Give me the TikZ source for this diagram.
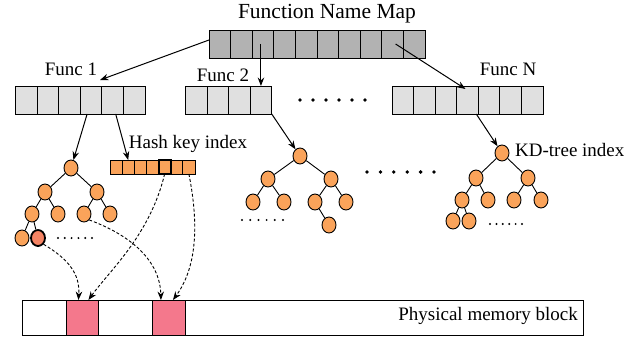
\documentclass[tikz,border=0pt]{standalone}
\usepackage{fontspec}
\setmainfont{Liberation Serif}
\usetikzlibrary{shapes.geometric,arrows.meta}
\definecolor{mapgray}{RGB}{178,178,178}
\definecolor{funcgray}{RGB}{224,224,224}
\definecolor{nodeorange}{RGB}{250,163,90}
\definecolor{nodesalmon}{RGB}{245,132,100}
\definecolor{mempink}{RGB}{244,120,140}
\tikzset{
  mapcell/.style={draw, line width=0.9pt, fill=mapgray, minimum width=21.6pt, minimum height=28pt, inner sep=0pt, outer sep=0pt},
  funccell/.style={draw, line width=0.9pt, fill=funcgray, minimum width=21.55pt, minimum height=28pt, inner sep=0pt, outer sep=0pt},
  hashcell/.style={draw, line width=0.8pt, fill=nodeorange, minimum width=12.14pt, minimum height=14pt, inner sep=0pt, outer sep=0pt},
  tnode/.style={ellipse, draw, line width=0.9pt, fill=nodeorange, minimum width=14pt, minimum height=16pt, inner sep=0pt},
  hinode/.style={tnode, fill=nodesalmon, line width=1.8pt},
  edge/.style={line width=0.9pt},
  arr/.style={line width=1pt, -{Stealth[length=8.5pt,width=6.5pt]}},
  darr/.style={line width=0.9pt, dashed, dash pattern=on 3pt off 2pt, -{Stealth[length=8.5pt,width=6.5pt]}},
  lbl/.style={font=\fontsize{19}{22}\selectfont, inner sep=0pt},
  biglbl/.style={font=\fontsize{21.5}{24}\selectfont, inner sep=0pt},
  bigdot/.style={fill=black},
}
\begin{document}
\begin{tikzpicture}[x=1pt,y=-1pt]
\useasboundingbox (0,0) rectangle (635,337);

% Function Name Map
\foreach \i in {1,...,10} {
  \node[mapcell] (fm\i) at ({209+10.8+21.6*(\i-1)},44) {};
}
\node[biglbl] (fmlabel) at (327,14) {Function Name Map};

% Func 1
\foreach \i in {1,...,6} {
  \node[funccell] (fa\i) at ({15.7+10.78+21.55*(\i-1)},100) {};
}
\node[lbl] (falabel) at (71,69) {Func 1};

% Func 2
\foreach \i in {1,...,4} {
  \node[funccell] (fb\i) at ({185.7+10.75+21.5*(\i-1)},100) {};
}
\node[lbl] (fblabel) at (223,75) {Func 2};

% Func N
\foreach \i in {1,...,7} {
  \node[funccell] (fn\i) at ({392+10.78+21.57*(\i-1)},100) {};
}
\node[lbl] (fnlabel) at (508,69) {Func N};

% big dots between arrays and trees
\foreach \k in {0,...,5} {
  \fill[bigdot] ({300+13*\k},100) circle (1.9pt);
  \fill[bigdot] ({367+13.4*\k},172) circle (1.9pt);
}

% Hash array
\foreach \i in {1,...,7} {
  \node[hashcell] (h\i) at ({110+6.07+12.14*(\i-1)},167) {};
}
\node[hashcell, line width=2pt] (h5b) at (h5) {};
\node[lbl] (hlabel) at (188,144) {Hash key index};

% Tree 1
\node[tnode] (a) at (71,168) {};
\node[tnode] (aL) at (45,192) {};
\node[tnode] (aR) at (97,192) {};
\node[tnode] (aLL) at (32,214) {};
\node[tnode] (aLR) at (58,214) {};
\node[tnode] (aRL) at (84,214) {};
\node[tnode] (aRR) at (110,214) {};
\node[tnode] (aLLL) at (22,238) {};
\node[hinode] (aLLR) at (38,238) {};
\draw[edge] (a) -- (aL) (a) -- (aR) (aL) -- (aLL) (aL) -- (aLR) (aR) -- (aRL) (aR) -- (aRR) (aLL) -- (aLLL) (aLL) -- (aLLR);
\foreach \k in {0,...,5} { \fill ({58+6.8*\k},238) circle (1.1pt); }

% Tree 2
\node[tnode] (b) at (300,156) {};
\node[tnode] (bL) at (268,179) {};
\node[tnode] (bR) at (331,179) {};
\node[tnode] (bLL) at (253,202) {};
\node[tnode] (bLR) at (284,202) {};
\node[tnode] (bRL) at (315,202) {};
\node[tnode] (bRR) at (346,202) {};
\node[tnode] (bRLR) at (329,225) {};
\draw[edge] (b) -- (bL) (b) -- (bR) (bL) -- (bLL) (bL) -- (bLR) (bR) -- (bRL) (bR) -- (bRR) (bRL) -- (bRLR);
\foreach \k in {0,...,5} { \fill ({242+8.2*\k},220) circle (1.1pt); }

% Tree N
\node[tnode] (c) at (502,153) {};
\node[tnode] (cL) at (476,178) {};
\node[tnode] (cR) at (528,178) {};
\node[tnode] (cLL) at (462,200) {};
\node[tnode] (cLR) at (488,200) {};
\node[tnode] (cRL) at (514,200) {};
\node[tnode] (cRR) at (541,200) {};
\node[tnode] (cLLL) at (453,221) {};
\node[tnode] (cLLR) at (469,221) {};
\draw[edge] (c) -- (cL) (c) -- (cR) (cL) -- (cLL) (cL) -- (cLR) (cR) -- (cRL) (cR) -- (cRR) (cLL) -- (cLLL) (cLL) -- (cLLR);
\foreach \k in {0,...,5} { \fill ({490+6.4*\k},224) circle (1.1pt); }
\node[lbl, anchor=west] (clabel) at (515,150) {KD-tree index};

% Memory block
\node[draw, line width=0.9pt, minimum width=561pt, minimum height=35pt, inner sep=0pt, anchor=north west] (mem) at (22,300) {};
\node[draw, line width=0.9pt, fill=mempink, minimum width=32pt, minimum height=35pt, inner sep=0pt, anchor=north west] (p1) at (66,300) {};
\node[draw, line width=0.9pt, fill=mempink, minimum width=33pt, minimum height=35pt, inner sep=0pt, anchor=north west] (p2) at (152,300) {};
\node[lbl, anchor=east] (memlabel) at (578,316) {Physical memory block};

% Arrows from the map
\coordinate (fa_end) at (100,80);
\draw[arr] ([yshift=4pt]fm1.west) -- (fa_end);
\draw[arr] (fm3.center -| fb4.north) -- (fb4.north);
\draw[arr] ([xshift=3pt]fm9.center) -- ([xshift=-2pt,yshift=-3pt]fn4.north);

% Arrows from function arrays
\draw[arr] ([xshift=-4pt]fa4.south) -- (a);
\draw[arr] ([xshift=3pt]fa5.south) -- (h2.north);
\draw[arr] (fb4.south east) -- (b);
\draw[arr] ([xshift=-2pt]fn4.south east) -- (c);

% Dashed arrows to memory
\draw[darr] (aLLR.south east) .. controls (70,260) and (80,275) .. ([xshift=-4pt]p1.north);
\draw[darr] (h5b.south) .. controls (150,235) and (110,270) .. ([xshift=6pt]p1.north);
\draw[darr] (aRL.south east) .. controls (130,235) and (160,260) .. ([xshift=-8pt]p2.north);
\draw[darr] (h7.south) .. controls (200,230) and (195,270) .. ([xshift=4pt]p2.north);
\end{tikzpicture}
\end{document}
